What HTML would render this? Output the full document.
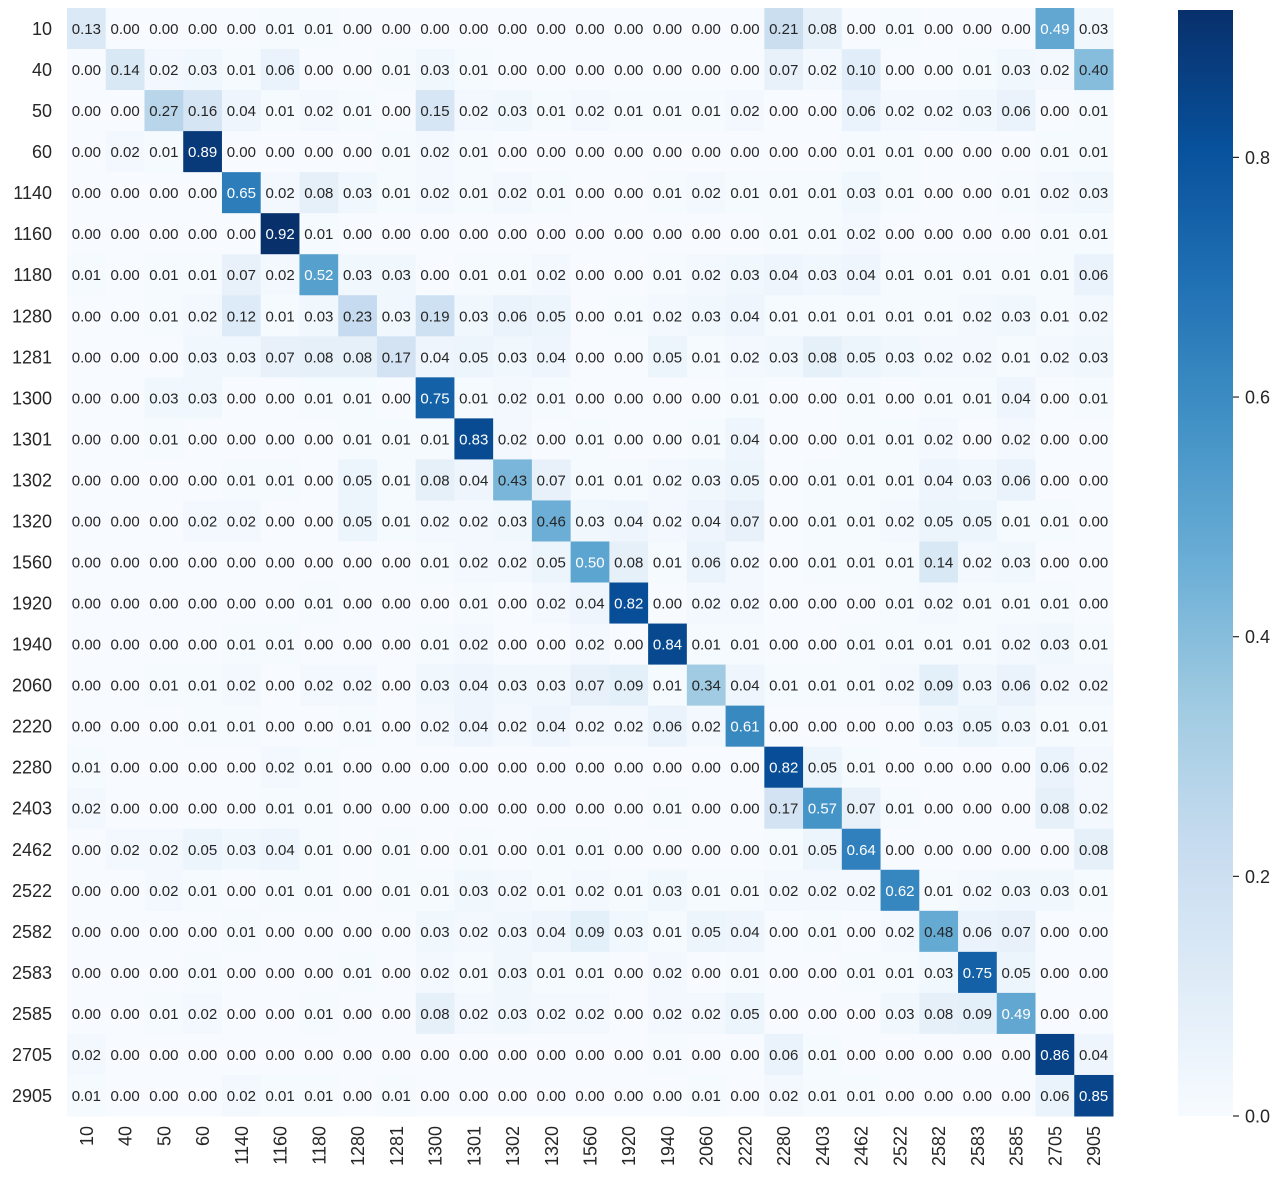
<!DOCTYPE html>
<html><head><meta charset="utf-8">
<style>
html,body{margin:0;padding:0;background:#fff;}
svg{display:block;font-family:"Liberation Sans","DejaVu Sans",sans-serif;}
</style></head>
<body>
<svg id="chart" width="1283" height="1184" viewBox="0 0 1283 1184" xmlns="http://www.w3.org/2000/svg">
<defs>
<linearGradient id="cbgrad" x1="0" y1="1" x2="0" y2="0">
<stop offset="0" stop-color="#f7fbff"/><stop offset="0.125" stop-color="#deebf7"/><stop offset="0.25" stop-color="#c6dbef"/><stop offset="0.375" stop-color="#9ecae1"/><stop offset="0.5" stop-color="#6baed6"/><stop offset="0.625" stop-color="#4292c6"/><stop offset="0.75" stop-color="#2171b5"/><stop offset="0.875" stop-color="#08519c"/><stop offset="1" stop-color="#08306b"/>
</linearGradient>
</defs>
<g id="cells"></g>
<g id="ylabels"></g>
<g id="xlabels"></g>
<g id="cbar"></g>
</svg>
<script>
const labels = ["10","40","50","60","1140","1160","1180","1280","1281","1300","1301","1302","1320","1560","1920","1940","2060","2220","2280","2403","2462","2522","2582","2583","2585","2705","2905"];
const row10 = [0.13,0,0,0,0,0.01,0.01,0,0,0,0,0,0,0,0,0,0,0,0.21,0.08,0,0.01,0,0,0,0.49,0.03];
const row40 = [0,0.14,0.02,0.03,0.01,0.06,0,0,0.01,0.03,0.01,0,0,0,0,0,0,0,0.07,0.02,0.10,0,0,0.01,0.03,0.02,0.40];
const row50 = [0,0,0.27,0.16,0.04,0.01,0.02,0.01,0,0.15,0.02,0.03,0.01,0.02,0.01,0.01,0.01,0.02,0,0,0.06,0.02,0.02,0.03,0.06,0,0.01];
const row60 = [0,0.02,0.01,0.89,0,0,0,0,0.01,0.02,0.01,0,0,0,0,0,0,0,0,0,0.01,0.01,0,0,0,0.01,0.01];
const row1140 = [0,0,0,0,0.65,0.02,0.08,0.03,0.01,0.02,0.01,0.02,0.01,0,0,0.01,0.02,0.01,0.01,0.01,0.03,0.01,0,0,0.01,0.02,0.03];
const row1160 = [0,0,0,0,0,0.92,0.01,0,0,0,0,0,0,0,0,0,0,0,0.01,0.01,0.02,0,0,0,0,0.01,0.01];
const row1180 = [0.01,0,0.01,0.01,0.07,0.02,0.52,0.03,0.03,0,0.01,0.01,0.02,0,0,0.01,0.02,0.03,0.04,0.03,0.04,0.01,0.01,0.01,0.01,0.01,0.06];
const row1280 = [0,0,0.01,0.02,0.12,0.01,0.03,0.23,0.03,0.19,0.03,0.06,0.05,0,0.01,0.02,0.03,0.04,0.01,0.01,0.01,0.01,0.01,0.02,0.03,0.01,0.02];
const row1281 = [0,0,0,0.03,0.03,0.07,0.08,0.08,0.17,0.04,0.05,0.03,0.04,0,0,0.05,0.01,0.02,0.03,0.08,0.05,0.03,0.02,0.02,0.01,0.02,0.03];
const row1300 = [0,0,0.03,0.03,0,0,0.01,0.01,0,0.75,0.01,0.02,0.01,0,0,0,0,0.01,0,0,0.01,0,0.01,0.01,0.04,0,0.01];
const row1301 = [0,0,0.01,0,0,0,0,0.01,0.01,0.01,0.83,0.02,0,0.01,0,0,0.01,0.04,0,0,0.01,0.01,0.02,0,0.02,0,0];
const row1302 = [0,0,0,0,0.01,0.01,0,0.05,0.01,0.08,0.04,0.43,0.07,0.01,0.01,0.02,0.03,0.05,0,0.01,0.01,0.01,0.04,0.03,0.06,0,0];
const row1320 = [0,0,0,0.02,0.02,0,0,0.05,0.01,0.02,0.02,0.03,0.46,0.03,0.04,0.02,0.04,0.07,0,0.01,0.01,0.02,0.05,0.05,0.01,0.01,0];
const row1560 = [0,0,0,0,0,0,0,0,0,0.01,0.02,0.02,0.05,0.50,0.08,0.01,0.06,0.02,0,0.01,0.01,0.01,0.14,0.02,0.03,0,0];
const row1920 = [0,0,0,0,0,0,0.01,0,0,0,0.01,0,0.02,0.04,0.82,0,0.02,0.02,0,0,0,0.01,0.02,0.01,0.01,0.01,0];
const row1940 = [0,0,0,0,0.01,0.01,0,0,0,0.01,0.02,0,0,0.02,0,0.84,0.01,0.01,0,0,0.01,0.01,0.01,0.01,0.02,0.03,0.01];
const row2060 = [0,0,0.01,0.01,0.02,0,0.02,0.02,0,0.03,0.04,0.03,0.03,0.07,0.09,0.01,0.34,0.04,0.01,0.01,0.01,0.02,0.09,0.03,0.06,0.02,0.02];
const row2220 = [0,0,0,0.01,0.01,0,0,0.01,0,0.02,0.04,0.02,0.04,0.02,0.02,0.06,0.02,0.61,0,0,0,0,0.03,0.05,0.03,0.01,0.01];
const row2280 = [0.01,0,0,0,0,0.02,0.01,0,0,0,0,0,0,0,0,0,0,0,0.82,0.05,0.01,0,0,0,0,0.06,0.02];
const row2403 = [0.02,0,0,0,0,0.01,0.01,0,0,0,0,0,0,0,0,0.01,0,0,0.17,0.57,0.07,0.01,0,0,0,0.08,0.02];
const row2462 = [0,0.02,0.02,0.05,0.03,0.04,0.01,0,0.01,0,0.01,0,0.01,0.01,0,0,0,0,0.01,0.05,0.64,0,0,0,0,0,0.08];
const row2522 = [0,0,0.02,0.01,0,0.01,0.01,0,0.01,0.01,0.03,0.02,0.01,0.02,0.01,0.03,0.01,0.01,0.02,0.02,0.02,0.62,0.01,0.02,0.03,0.03,0.01];
const row2582 = [0,0,0,0,0.01,0,0,0,0,0.03,0.02,0.03,0.04,0.09,0.03,0.01,0.05,0.04,0,0.01,0,0.02,0.48,0.06,0.07,0,0];
const row2583 = [0,0,0,0.01,0,0,0,0.01,0,0.02,0.01,0.03,0.01,0.01,0,0.02,0,0.01,0,0,0.01,0.01,0.03,0.75,0.05,0,0];
const row2585 = [0,0,0.01,0.02,0,0,0.01,0,0,0.08,0.02,0.03,0.02,0.02,0,0.02,0.02,0.05,0,0,0,0.03,0.08,0.09,0.49,0,0];
const row2705 = [0.02,0,0,0,0,0,0,0,0,0,0,0,0,0,0,0.01,0,0,0.06,0.01,0,0,0,0,0,0.86,0.04];
const row2905 = [0.01,0,0,0,0.02,0.01,0.01,0,0.01,0,0,0,0,0,0,0,0.01,0,0.02,0.01,0.01,0,0,0,0,0.06,0.85];
const matrix = [row10,row40,row50,row60,row1140,row1160,row1180,row1280,row1281,row1300,row1301,row1302,row1320,row1560,row1920,row1940,row2060,row2220,row2280,row2403,row2462,row2522,row2582,row2583,row2585,row2705,row2905];
const cbTicks = [0,0.2,0.4,0.6,0.8];
const vmax = 0.923;

const NS = "http://www.w3.org/2000/svg";
const X0 = 67, X1 = 1113, Y0 = 8, Y1 = 1116;
const n = labels.length;
const cw = (X1 - X0) / n, ch = (Y1 - Y0) / n;
const xPos = i => X0 + i * cw;
const yPos = i => Y0 + i * ch;
const stops = ["#f7fbff","#deebf7","#c6dbef","#9ecae1","#6baed6","#4292c6","#2171b5","#08519c","#08306b"].map(h => [parseInt(h.slice(1,3),16),parseInt(h.slice(3,5),16),parseInt(h.slice(5,7),16)]);
function color(v){
  let t = Math.max(0, Math.min(1, v / vmax)) * 8;
  let i = Math.min(7, Math.floor(t)), f = t - i;
  const a = stops[i], b = stops[i+1];
  return "rgb(" + [0,1,2].map(k => Math.round(a[k] + (b[k]-a[k])*f)).join(",") + ")";
}
function mk(tag, attrs, parent){
  const e = document.createElementNS(NS, tag);
  for (const k in attrs) e.setAttribute(k, attrs[k]);
  parent.appendChild(e);
  return e;
}
const cells = document.getElementById("cells");
matrix.forEach((row, r) => {
  row.forEach((v, c) => {
    const rect = mk("rect", {x: xPos(c), y: yPos(r), width: cw + 0.5, height: ch + 0.5, fill: color(v)}, cells);
    
    
    const t = mk("text", {x: xPos(c) + cw/2, y: yPos(r) + ch/2 + 5.5, "text-anchor": "middle", "font-size": "15", fill: v >= 0.485 ? "#ffffff" : "#262626"}, cells);
    
    
    t.textContent = v.toFixed(2);
  });
});
const yl = document.getElementById("ylabels");
labels.forEach((l, i) => {
  const t = mk("text", {x: 52, y: yPos(i) + ch/2 + 6.5, "text-anchor": "end", "font-size": "18", fill: "#262626"}, yl);
  
  
  t.textContent = l;
});
const xl = document.getElementById("xlabels");
labels.forEach((l, i) => {
  const cx = xPos(i) + cw/2 + 6.5, cy = 1126;
  const t = mk("text", {x: cx, y: cy, "text-anchor": "end", "font-size": "18", fill: "#262626", transform: "rotate(-90 " + cx + " " + cy + ")"}, xl);
  
  
  t.textContent = l;
});
const cb = document.getElementById("cbar");
const CBX = 1178, CBW = 55, CBT = 10, CBB = 1116;
const cbY = v => CBB - (v / vmax) * (CBB - CBT);
const bar = mk("rect", {x: CBX, y: CBT, width: CBW, height: CBB - CBT, fill: "url(#cbgrad)"}, cb);


cbTicks.forEach(v => {
  const y = cbY(v);
  const ln = mk("line", {x1: CBX + CBW, x2: CBX + CBW + 6, y1: y, y2: y, stroke: "#262626", "stroke-width": 1.2}, cb);
  
  
  const t = mk("text", {x: CBX + CBW + 12, y: y + 6.5, "font-size": "18", fill: "#262626"}, cb);
  
  
  t.textContent = v.toFixed(1);
});
</script>
</body></html>
